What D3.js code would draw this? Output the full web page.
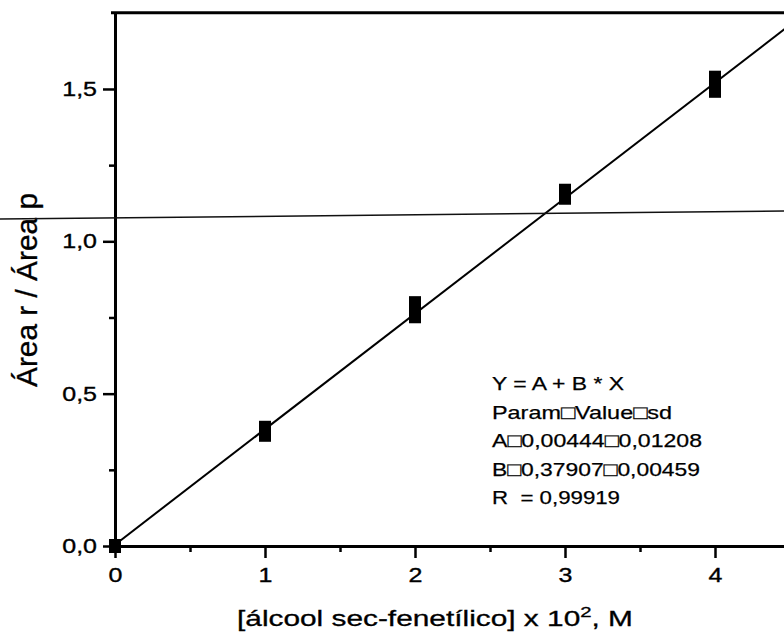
<!DOCTYPE html>
<html>
<head>
<meta charset="utf-8">
<script src="https://cdn.jsdelivr.net/npm/d3@7"></script>
<style>
  html, body { margin: 0; padding: 0; background: #fff; }
  svg { display: block; }
  text { font-family: "Liberation Sans", Arial, sans-serif; fill: #000; }
</style>
</head>
<body>
<svg id="chart" width="784" height="642"></svg>
<script>
// Calibration data: concentration (x 10^2 M) vs. peak-area ratio, two replicates per level
const concentrations = [0, 1, 2, 3, 4];
const replicateA = [0.000, 0.365, 0.754, 1.143, 1.494];
const replicateB = [0.000, 0.388, 0.797, 1.166, 1.537];

// Linear fit Y = A + B * X
const fitA = 0.00444;
const fitB = 0.37907;

const xTickValues = [0, 1, 2, 3, 4];
const xMinorValues = [0.5, 1.5, 2.5, 3.5];
const yTickValues = [0, 0.5, 1.0, 1.5];
const yMinorValues = [0.25, 0.75, 1.25];

const fitReport = [
  "Y = A + B * X",
  "Param\u25A1Value\u25A1sd",
  "A\u25A10,00444\u25A10,01208",
  "B\u25A10,37907\u25A10,00459",
  "R  = 0,99919"
];

const svg = d3.select("#chart");
const W = 784, H = 642;

const x = d3.scaleLinear().domain([0, 4.5]).range([115, 790]);
const y = d3.scaleLinear().domain([0, 1.75]).range([546, 12.8]);

const commaFmt = v => d3.format(".1f")(v).replace(".", ",");
const tickStretch = 1.25;
const inkStroke = 0.35;

// plot area clip
svg.append("defs").append("clipPath").attr("id", "plotClip")
  .append("rect")
  .attr("x", x(0)).attr("y", y(1.75))
  .attr("width", x(4.5) - x(0)).attr("height", y(0) - y(1.75));

// top frame
svg.append("line")
  .attr("x1", x(0) - 4).attr("x2", x(4.5))
  .attr("y1", y(1.75)).attr("y2", y(1.75))
  .attr("stroke", "#000").attr("stroke-width", 3);

// Y axis (major + minor)
const yAxisG = svg.append("g").attr("transform", `translate(${x(0)},0)`)
  .call(d3.axisLeft(y).tickValues(yTickValues).tickSize(12).tickSizeOuter(0).tickFormat(commaFmt));
yAxisG.select(".domain").attr("stroke-width", 3);
yAxisG.selectAll(".tick line").attr("stroke-width", 2.5);
yAxisG.selectAll(".tick text")
  .attr("font-size", 20)
  .attr("font-family", "'Liberation Sans', Arial, sans-serif")
  .attr("stroke", "#000").attr("stroke-width", inkStroke)
  .attr("x", -18 / tickStretch)
  .attr("transform", `scale(${tickStretch},1)`);

const yMinorG = svg.append("g").attr("transform", `translate(${x(0)},0)`)
  .call(d3.axisLeft(y).tickValues(yMinorValues).tickSize(6).tickFormat(""));
yMinorG.select(".domain").remove();
yMinorG.selectAll(".tick line").attr("stroke-width", 2.5);

// X axis (major + minor)
const xAxisG = svg.append("g").attr("transform", `translate(0,${y(0)})`)
  .call(d3.axisBottom(x).tickValues(xTickValues).tickSize(12).tickSizeOuter(0).tickPadding(10).tickFormat(d3.format("d")));
xAxisG.select(".domain").attr("stroke-width", 3);
xAxisG.selectAll(".tick line").attr("stroke-width", 2.5);
xAxisG.selectAll(".tick text")
  .attr("font-size", 20)
  .attr("font-family", "'Liberation Sans', Arial, sans-serif")
  .attr("stroke", "#000").attr("stroke-width", inkStroke)
  .attr("transform", `scale(${tickStretch},1)`);

const xMinorG = svg.append("g").attr("transform", `translate(0,${y(0)})`)
  .call(d3.axisBottom(x).tickValues(xMinorValues).tickSize(6).tickFormat(""));
xMinorG.select(".domain").remove();
xMinorG.selectAll(".tick line").attr("stroke-width", 2.5);

// fitted line
const plot = svg.append("g").attr("clip-path", "url(#plotClip)");
const fitDomain = [0, 4.5];
plot.append("path")
  .datum(fitDomain.map(v => [v, fitA + fitB * v]))
  .attr("d", d3.line().x(d => x(d[0])).y(d => y(d[1])))
  .attr("fill", "none").attr("stroke", "#000").attr("stroke-width", 2);

// replicate markers (filled blocks, overlapping when replicates are close)
const markerW = 12, markerH = 14;
const points = [];
concentrations.forEach((c, i) => {
  points.push([c, replicateA[i]]);
  points.push([c, replicateB[i]]);
});
svg.append("g").selectAll("rect").data(points).join("rect")
  .attr("x", d => x(d[0]) - markerW / 2)
  .attr("y", d => y(d[1]) - markerH / 2)
  .attr("width", markerW).attr("height", markerH)
  .attr("fill", "#000");

// regression report
const report = svg.append("g");
const reportWidths = [132, 180, 210, 208, 128];
report.selectAll("text").data(fitReport).join("text")
  .attr("x", 492)
  .attr("y", (d, i) => 390 + i * 28.5)
  .attr("font-size", 19)
  .attr("stroke", "#000").attr("stroke-width", 0.25)
  .attr("textLength", (d, i) => reportWidths[i])
  .attr("lengthAdjust", "spacingAndGlyphs")
  .style("white-space", "pre")
  .attr("xml:space", "preserve")
  .text(d => d);

// axis titles
const xTitle = svg.append("text")
  .attr("x", 237).attr("y", 626)
  .attr("font-size", 22)
  .attr("stroke", "#000").attr("stroke-width", 0.3)
  .attr("textLength", 396)
  .attr("lengthAdjust", "spacingAndGlyphs");
xTitle.append("tspan").text("[álcool sec-fenetílico] x 10");
xTitle.append("tspan").attr("dy", -9).attr("font-size", 15).text("2");
xTitle.append("tspan").attr("dy", 9).text(", M");

svg.append("text")
  .attr("transform", "translate(37,290) rotate(-90)")
  .attr("text-anchor", "middle")
  .attr("font-size", 30)
  .attr("stroke", "#000").attr("stroke-width", 0.3)
  .attr("textLength", 194)
  .attr("lengthAdjust", "spacingAndGlyphs")
  .text("Área r / Área p");

// thin horizontal rule crossing the whole figure
svg.append("line")
  .attr("x1", 0).attr("y1", 219).attr("x2", W).attr("y2", 211)
  .attr("stroke", "#111").attr("stroke-width", 1.5);
</script>
</body>
</html>
